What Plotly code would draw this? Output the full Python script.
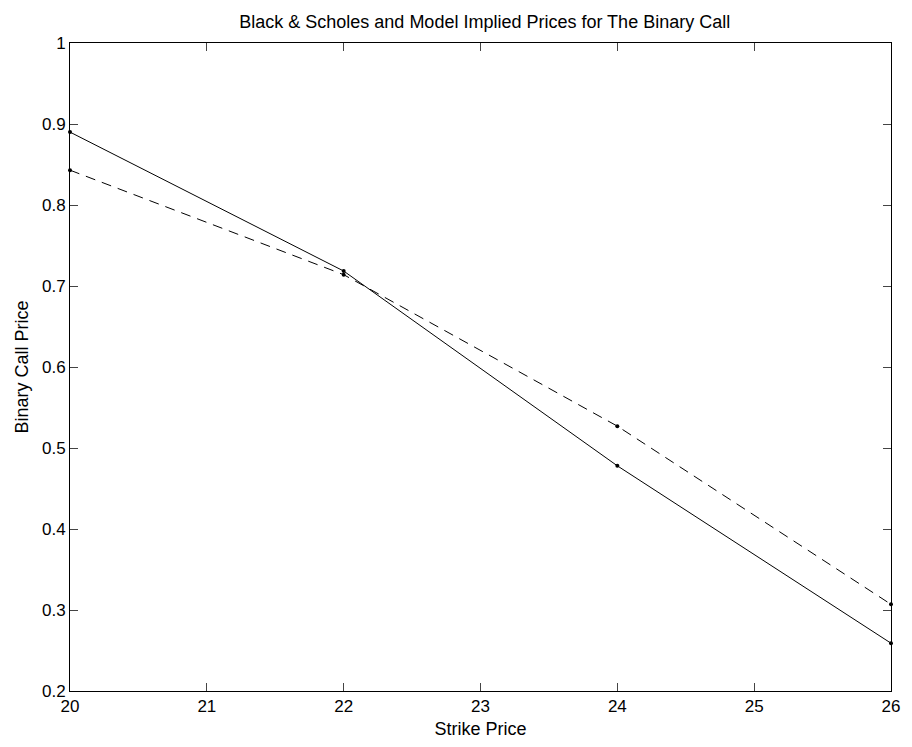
import plotly.graph_objects as go

strikes = [20, 22, 24, 26]
model_price = [0.890, 0.7185, 0.478, 0.259]
bs_price = [0.843, 0.714, 0.527, 0.307]

x_ticks = [20, 21, 22, 23, 24, 25, 26]
y_ticks = [0.2, 0.3, 0.4, 0.5, 0.6, 0.7, 0.8, 0.9, 1.0]
y_tick_text = ["0.2", "0.3", "0.4", "0.5", "0.6", "0.7", "0.8", "0.9", "1"]

FONT = "Liberation Sans, Arial, Helvetica, sans-serif"

fig = go.Figure()
fig.add_trace(go.Scatter(
    x=strikes, y=model_price, mode="lines+markers",
    line=dict(color="black", width=1),
    marker=dict(color="black", size=4),
    showlegend=False, cliponaxis=False, hoverinfo="skip",
))
fig.add_trace(go.Scatter(
    x=strikes, y=bs_price, mode="lines+markers",
    line=dict(color="black", width=1, dash="10px,7px"),
    marker=dict(color="black", size=4),
    showlegend=False, cliponaxis=False, hoverinfo="skip",
))

axis_common = dict(
    showgrid=False, zeroline=False,
    showline=True, linecolor="black", linewidth=1, mirror="ticks",
    ticks="inside", ticklen=8, tickcolor="#444", tickwidth=1,
    tickfont=dict(family=FONT, size=17, color="black"),
)

fig.update_xaxes(
    range=[20, 26], tickvals=x_ticks, ticktext=[str(v) for v in x_ticks],
    title=dict(text="Strike Price", font=dict(family=FONT, size=18, color="black"), standoff=6),
    **axis_common,
)
fig.update_yaxes(
    range=[0.2, 1.0], tickvals=y_ticks, ticktext=y_tick_text,
    title=dict(text="Binary Call Price", font=dict(family=FONT, size=18, color="black"), standoff=8),
    **axis_common,
)

fig.update_layout(
    width=912, height=747,
    margin=dict(l=70, r=17, t=43, b=54),
    paper_bgcolor="white", plot_bgcolor="white",
    font=dict(family=FONT, size=18, color="black"),
    title=dict(
        text="Black & Scholes and Model Implied Prices for The Binary Call",
        font=dict(family=FONT, size=18, color="black"),
        x=0.5315, xanchor="center", yref="container", y=1 - 22 / 747, yanchor="middle",
    ),
)

fig.write_html(
    "out.html",
    config={"displayModeBar": False, "staticPlot": True},
    post_script="document.body.style.margin='0';",
)
